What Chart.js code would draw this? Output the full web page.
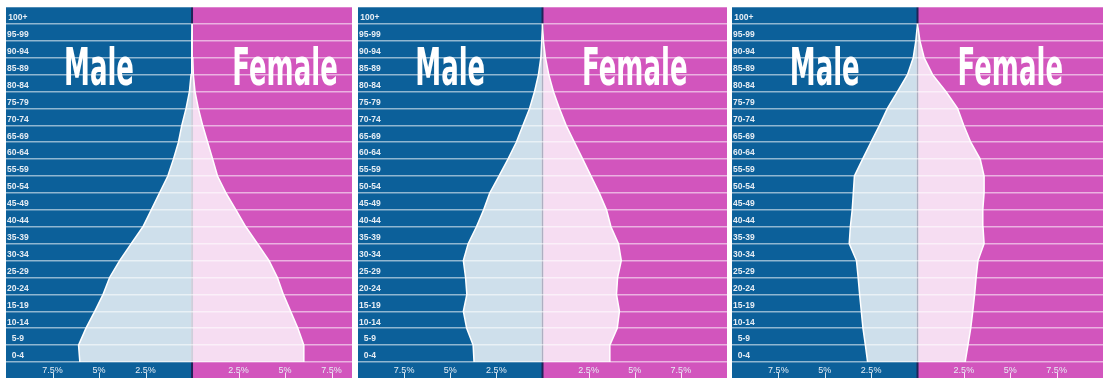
<!DOCTYPE html>
<html lang="en">
<head>
  <meta charset="UTF-8">
  <title>Population Pyramids</title>
  <script src="https://cdn.jsdelivr.net/npm/chart.js"></script>
  <style>
    html, body { margin: 0; padding: 0; background: #fff; }
    body { width: 1108px; height: 384px; position: relative; overflow: hidden; }
    .panel { position: absolute; top: 7px; height: 371px; }
    .panel canvas { display: block; }
  </style>
</head>
<body>
  <div class="panel" style="left:6px;width:346px"><canvas id="pyr1" width="346" height="371"></canvas></div>
  <div class="panel" style="left:358px;width:369px"><canvas id="pyr2" width="369" height="371"></canvas></div>
  <div class="panel" style="left:732px;width:371px"><canvas id="pyr3" width="371" height="371"></canvas></div>

  <script>
    // age groups, bottom to top
    const ageGroups = ['0-4', '5-9', '10-14', '15-19', '20-24', '25-29', '30-34', '35-39', '40-44', '45-49',
      '50-54', '55-59', '60-64', '65-69', '70-74', '75-79', '80-84', '85-89', '90-94', '95-99', '100+'];

    // share of population (%) per age group
    const male1 = [6.03, 6.10, 5.70, 5.23, 4.78, 4.43, 3.89, 3.27, 2.64, 2.19, 1.75, 1.30, 1.00, 0.73, 0.55, 0.32, 0.14, 0.05, 0.02, 0.01, 0];
    const female1 = [5.98, 6.01, 5.69, 5.30, 4.91, 4.59, 4.14, 3.52, 2.89, 2.36, 1.82, 1.37, 1.11, 0.84, 0.57, 0.34, 0.16, 0.07, 0.04, 0.02, 0];

    const male2 = [3.71, 3.76, 4.11, 4.29, 4.10, 4.17, 4.29, 4.03, 3.58, 3.19, 2.86, 2.36, 1.87, 1.42, 1.06, 0.70, 0.43, 0.22, 0.09, 0.04, 0];
    const female2 = [3.61, 3.65, 4.05, 4.17, 4.01, 4.07, 4.27, 4.12, 3.71, 3.47, 3.08, 2.63, 2.18, 1.73, 1.28, 0.92, 0.59, 0.34, 0.16, 0.05, 0];

    const male3 = [2.69, 2.81, 2.94, 3.03, 3.12, 3.20, 3.29, 3.68, 3.62, 3.52, 3.46, 3.40, 2.96, 2.51, 2.05, 1.62, 1.08, 0.54, 0.23, 0.09, 0];
    const female3 = [2.57, 2.72, 2.87, 2.98, 3.08, 3.16, 3.26, 3.59, 3.53, 3.52, 3.59, 3.59, 3.38, 2.87, 2.49, 2.16, 1.53, 0.81, 0.36, 0.13, 0];

    const xTickValues = [-7.5, -5, -2.5, 2.5, 5, 7.5];
    const panelXMax = [8.6, 10, 10];

    const maleColor = '#0c609a';
    const femaleColor = '#d255bd';
    const labelColor = '#e6edf4';

    const pyramidPlugin = {
      id: 'pyramidPlugin',
      beforeDraw(chart) {
        const { ctx, width, height } = chart;
        const mid = chart.scales.x.getPixelForValue(0);
        ctx.save();
        ctx.fillStyle = maleColor;
        ctx.fillRect(0, 0, mid, height);
        ctx.fillStyle = femaleColor;
        ctx.fillRect(mid, 0, width - mid, height);
        // dark divider, shows through the light fill
        ctx.strokeStyle = '#1f2458';
        ctx.lineWidth = 2;
        ctx.beginPath();
        ctx.moveTo(mid, 0);
        ctx.lineTo(mid, height);
        ctx.stroke();
        ctx.restore();
      },
      afterDatasetsDraw(chart) {
        const { ctx } = chart;
        const x = chart.scales.x, y = chart.scales.y;
        const size = 51;
        const base = y.getPixelForValue(17.5) + size * 0.729 / 2;
        ctx.save();
        ctx.fillStyle = '#ffffff';
        ctx.font = 'bold ' + size + 'px "DejaVu Sans", sans-serif';
        ctx.textAlign = 'center';
        ctx.textBaseline = 'alphabetic';
        [['Male', -5], ['Female', 5]].forEach(([txt, v]) => {
          ctx.save();
          ctx.translate(x.getPixelForValue(v), base);
          ctx.scale(0.51, 1);
          ctx.fillText(txt, 0, 0);
          ctx.restore();
        });
        ctx.restore();
      },
      afterDraw(chart) {
        // small tick marks under the percent labels
        const { ctx, chartArea } = chart;
        const x = chart.scales.x;
        ctx.save();
        ctx.strokeStyle = 'rgba(255,255,255,0.85)';
        ctx.lineWidth = 1;
        x.ticks.forEach(t => {
          const px = Math.round(x.getPixelForValue(t.value)) + 0.5;
          ctx.beginPath();
          ctx.moveTo(px, chartArea.bottom + 11);
          ctx.lineTo(px, chartArea.bottom + 16);
          ctx.stroke();
        });
        ctx.restore();
      }
    };

    function makePyramid(id, male, female, xMax) {
      const side = (vals, sign) => ({
        data: vals.map((v, i) => ({ x: sign * v, y: i })),
        fill: 'origin',
        backgroundColor: 'rgba(255,255,255,0.8)',
        borderColor: '#ffffff',
        borderWidth: 1.5,
        pointRadius: 0,
        tension: 0
      });

      return new Chart(document.getElementById(id), {
        type: 'line',
        data: { datasets: [side(male, -1), side(female, 1)] },
        options: {
          indexAxis: 'y',
          responsive: false,
          animation: false,
          layout: { padding: 0 },
          plugins: { legend: { display: false }, tooltip: { enabled: false } },
          scales: {
            x: {
              type: 'linear',
              min: -10,
              max: xMax,
              afterBuildTicks: s => { s.ticks = xTickValues.map(v => ({ value: v })); },
              afterFit: s => { s.height = 16; s.paddingLeft = 0; s.paddingRight = 0; },
              grid: { display: false, drawTicks: false },
              border: { display: false },
              ticks: {
                padding: 3,
                autoSkip: false,
                maxRotation: 0,
                color: labelColor,
                font: { size: 9, family: '"Liberation Sans", Arial, sans-serif' },
                callback: v => Math.abs(v) + '%'
              }
            },
            y: {
              type: 'linear',
              min: 0,
              max: ageGroups.length,
              afterBuildTicks: s => {
                s.ticks = ageGroups.map((_, i) => ({ value: i })).concat({ value: ageGroups.length });
              },
              afterFit: s => { s.width = 0; s.paddingTop = 0; s.paddingBottom = 0; },
              grid: { color: 'rgba(255,255,255,0.55)', lineWidth: 1.5, drawTicks: false },
              border: { display: false },
              ticks: {
                mirror: true,
                crossAlign: 'center',
                padding: 1,
                labelOffset: -6,
                autoSkip: false,
                color: labelColor,
                font: { size: 8.5, weight: 'bold', family: '"Liberation Sans", Arial, sans-serif' },
                callback: v => ageGroups[v] ?? ''
              }
            }
          }
        },
        plugins: [pyramidPlugin]
      });
    }

    makePyramid('pyr1', male1, female1, panelXMax[0]);
    makePyramid('pyr2', male2, female2, panelXMax[1]);
    makePyramid('pyr3', male3, female3, panelXMax[2]);
  </script>
</body>
</html>
